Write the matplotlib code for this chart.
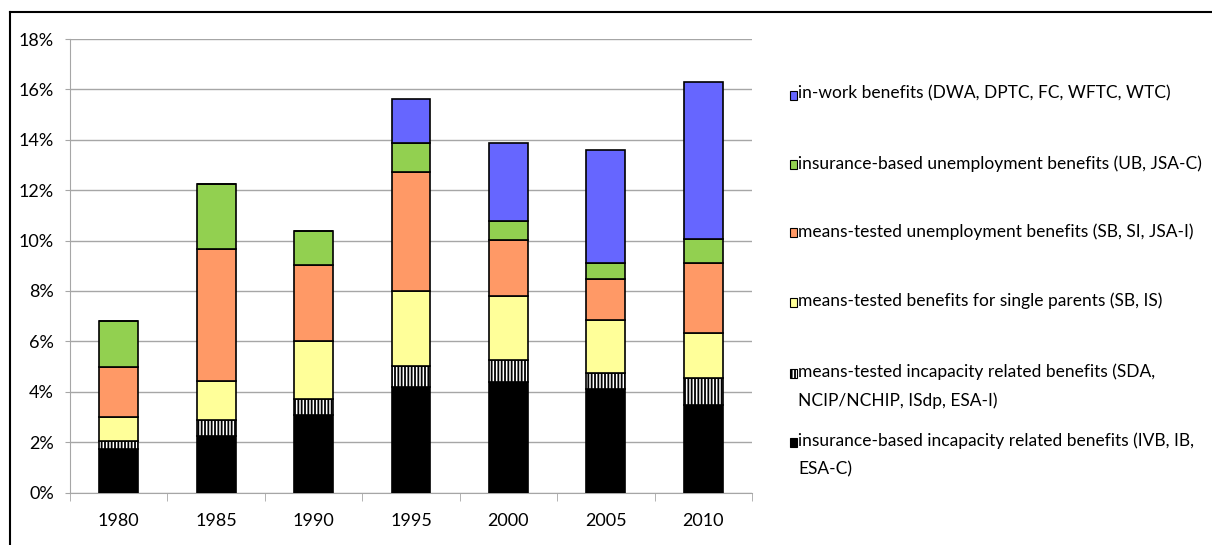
import matplotlib.pyplot as plt
from matplotlib.patches import Rectangle
from matplotlib.lines import Line2D
from matplotlib.ticker import FixedLocator, PercentFormatter

# ===============================
# DADOS (% do total)
# ===============================

anos = ["1980", "1985", "1990", "1995", "2000", "2005", "2010"]

incap_seguro = [1.71, 2.26, 3.09, 4.19, 4.37, 4.10, 3.48]
incap_means = [0.32, 0.62, 0.63, 0.83, 0.87, 0.64, 1.06]
pais_sozinhos = [0.96, 1.53, 2.28, 2.97, 2.55, 2.09, 1.79]
desemp_means = [2.00, 5.26, 3.02, 4.73, 2.24, 1.64, 2.77]
desemp_seguro = [1.80, 2.56, 1.34, 1.14, 0.74, 0.63, 0.97]
in_work = [0.00, 0.00, 0.00, 1.74, 3.09, 4.49, 6.22]

series = [incap_seguro, incap_means, pais_sozinhos, desemp_means, desemp_seguro, in_work]
rotulos = [
    "insurance-based incapacity related benefits (IVB, IB,\nESA-C)",
    "means-tested incapacity related benefits (SDA,\nNCIP/NCHIP, ISdp, ESA-I)",
    "means-tested benefits for single parents (SB, IS)",
    "means-tested unemployment benefits (SB, SI, JSA-I)",
    "insurance-based unemployment benefits (UB, JSA-C)",
    "in-work benefits (DWA, DPTC, FC, WFTC, WTC)",
]
cores = ["#000000", "#FFFFFF", "#FFFF99", "#FF9966", "#92D050", "#6666FF"]
hachuras = [None, "|||||", None, None, None, None]

# ===============================
# FIGURA
# ===============================

plt.rcParams["font.family"] = ["Lato", "DejaVu Sans"]
plt.rcParams["hatch.linewidth"] = 1.3

W, H = 1212, 545
fig = plt.figure(figsize=(W / 100, H / 100), dpi=100)
ax = fig.add_axes([70 / W, 1 - 492.5 / H, (752 - 70) / W, (492.5 - 39) / H])

x = list(range(len(anos)))
base = [0.0] * len(anos)
for valores, cor, hach in zip(series, cores, hachuras):
    ax.bar(x, valores, width=0.4, bottom=base, color=cor, edgecolor="black",
           linewidth=1.2, hatch=hach, zorder=3)
    base = [b + v for b, v in zip(base, valores)]

ax.set_xlim(-0.5, len(anos) - 0.5)
ax.set_ylim(0, 18)
ax.set_yticks(range(0, 19, 2))
ax.yaxis.set_major_formatter(PercentFormatter(decimals=0))
ax.grid(axis="y", color="#A6A6A6", linewidth=1.0, zorder=0)

ax.set_xticks(x)
ax.set_xticklabels(anos)
ax.xaxis.set_minor_locator(FixedLocator([i - 0.5 for i in range(len(anos) + 1)]))
ax.tick_params(axis="x", which="major", length=0, pad=15, labelsize=13)
ax.tick_params(axis="x", which="minor", length=6, color="#A6A6A6", direction="out")
ax.tick_params(axis="y", length=3.6, color="#A6A6A6", pad=8, labelsize=13)

for lado in ["top", "right"]:
    ax.spines[lado].set_visible(False)
for lado in ["left", "bottom"]:
    ax.spines[lado].set_color("#A6A6A6")

# ===============================
# LEGENDA
# ===============================

ys_legenda = [95, 165, 233, 302, 373, 442]
for y, rot, cor, hach in zip(ys_legenda, rotulos[::-1], cores[::-1], hachuras[::-1]):
    fig.patches.append(Rectangle((790 / W, 1 - (y + 4.5) / H), 7 / W, 9 / H,
                                 transform=fig.transFigure, facecolor=cor,
                                 edgecolor="black", linewidth=0.8, hatch=hach))
    fig.text(798 / W, 1 - (y - 10) / H, rot, fontsize=12.5, va="top", ha="left",
             linespacing=1.95)

# moldura
fig.add_artist(Line2D([10 / W, 1], [1 - 12 / H] * 2, color="black", linewidth=1.5))
fig.add_artist(Line2D([10 / W] * 2, [1 - 12 / H, 0], color="black", linewidth=1.5))

fig.savefig("out.png", dpi=100)
